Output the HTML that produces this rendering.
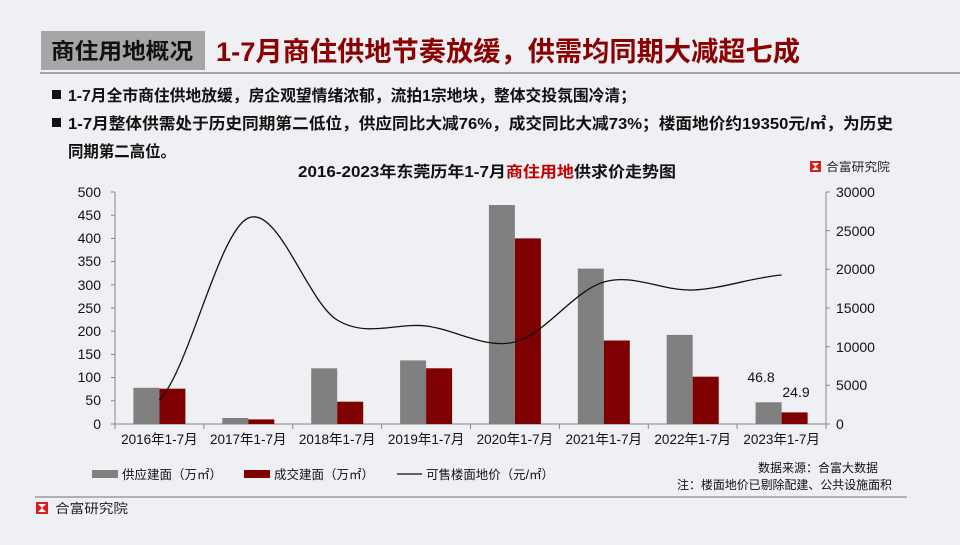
<!DOCTYPE html>
<html><head><meta charset="utf-8"><style>
html,body{margin:0;padding:0;}
body{width:960px;height:540px;background:#eef0f3;overflow:hidden;font-family:"Liberation Sans","Noto Sans CJK SC",sans-serif;}
</style></head><body>
<svg width="960" height="540" xmlns="http://www.w3.org/2000/svg" font-family="Liberation Sans, Noto Sans CJK SC, sans-serif">
<rect x="0" y="0" width="960" height="540" fill="#eef0f3"/>
<rect x="41" y="31" width="164" height="39" fill="#a6a6a6"/>
<text x="51" y="59" font-size="22" font-weight="bold" fill="#111" textLength="142" lengthAdjust="spacingAndGlyphs">商住用地概况</text>
<text x="216" y="61" font-size="27" font-weight="bold" fill="#8b0000" textLength="584" lengthAdjust="spacingAndGlyphs">1-7月商住供地节奏放缓，供需均同期大减超七成</text>
<line x1="40" y1="73" x2="960" y2="73" stroke="#8c8c8c" stroke-width="1.5"/>
<rect x="52" y="90" width="9" height="9" fill="#111"/>
<text x="68" y="101" font-size="16" font-weight="bold" fill="#111" textLength="568" lengthAdjust="spacingAndGlyphs">1-7月全市商住供地放缓，房企观望情绪浓郁，流拍1宗地块，整体交投氛围冷清；</text>
<rect x="52" y="118" width="9" height="9" fill="#111"/>
<text x="68" y="129" font-size="16" font-weight="bold" fill="#111" textLength="825" lengthAdjust="spacingAndGlyphs">1-7月整体供需处于历史同期第二低位，供应同比大减76%，成交同比大减73%；楼面地价约19350元/㎡，为历史</text>
<text x="68" y="157" font-size="16" font-weight="bold" fill="#111" textLength="108" lengthAdjust="spacingAndGlyphs">同期第二高位。</text>
<text x="298" y="177" font-size="15.5" font-weight="bold" fill="#111" textLength="378" lengthAdjust="spacingAndGlyphs">2016-2023年东莞历年1-7月<tspan fill="#c00000">商住用地</tspan>供求价走势图</text>
<rect x="810" y="161" width="11" height="11" fill="#d42020"/><path d="M812,163 h7 l-3.5,3.5z M812,170 h7 l-3.5,-3.5z" fill="#fff"/>
<text x="826" y="171" font-size="12" fill="#222" textLength="64" lengthAdjust="spacingAndGlyphs">合富研究院</text>
<g stroke="#888" stroke-width="1" fill="none">
<line x1="115" y1="192" x2="115" y2="424"/>
<line x1="826" y1="192" x2="826" y2="424"/>
<line x1="115" y1="424" x2="826" y2="424"/>
</g>
<g stroke="#888">
<line x1="111" y1="192" x2="115" y2="192"/><line x1="111" y1="215.2" x2="115" y2="215.2"/><line x1="111" y1="238.4" x2="115" y2="238.4"/><line x1="111" y1="261.6" x2="115" y2="261.6"/><line x1="111" y1="284.8" x2="115" y2="284.8"/><line x1="111" y1="308" x2="115" y2="308"/><line x1="111" y1="331.2" x2="115" y2="331.2"/><line x1="111" y1="354.4" x2="115" y2="354.4"/><line x1="111" y1="377.6" x2="115" y2="377.6"/><line x1="111" y1="400.8" x2="115" y2="400.8"/><line x1="111" y1="424" x2="115" y2="424"/>
<line x1="826" y1="192" x2="830" y2="192"/><line x1="826" y1="230.7" x2="830" y2="230.7"/><line x1="826" y1="269.3" x2="830" y2="269.3"/><line x1="826" y1="308" x2="830" y2="308"/><line x1="826" y1="346.7" x2="830" y2="346.7"/><line x1="826" y1="385.3" x2="830" y2="385.3"/><line x1="826" y1="424" x2="830" y2="424"/>
<line x1="203.9" y1="424" x2="203.9" y2="429"/><line x1="292.8" y1="424" x2="292.8" y2="429"/><line x1="381.6" y1="424" x2="381.6" y2="429"/><line x1="470.5" y1="424" x2="470.5" y2="429"/><line x1="559.4" y1="424" x2="559.4" y2="429"/><line x1="648.3" y1="424" x2="648.3" y2="429"/><line x1="737.1" y1="424" x2="737.1" y2="429"/><line x1="115" y1="424" x2="115" y2="429"/><line x1="826" y1="424" x2="826" y2="429"/>
</g>
<g font-size="14" fill="#111" text-anchor="end">
<text x="101" y="197">500</text><text x="101" y="220">450</text><text x="101" y="243">400</text><text x="101" y="266">350</text><text x="101" y="290">300</text><text x="101" y="313">250</text><text x="101" y="336">200</text><text x="101" y="359">150</text><text x="101" y="382">100</text><text x="101" y="405">50</text><text x="101" y="429">0</text>
</g>
<g font-size="14" fill="#111">
<text x="836" y="197">30000</text><text x="836" y="236">25000</text><text x="836" y="274">20000</text><text x="836" y="313">15000</text><text x="836" y="352">10000</text><text x="836" y="390">5000</text><text x="836" y="429">0</text>
</g>
<g fill="#808080">
<rect x="133.4" y="387.8" width="26" height="36.2"/><rect x="222.3" y="418" width="26" height="6"/><rect x="311.2" y="368.3" width="26" height="55.7"/><rect x="400.1" y="360.4" width="26" height="63.6"/><rect x="488.9" y="205" width="26" height="219"/><rect x="577.8" y="268.6" width="26" height="155.4"/><rect x="666.7" y="334.9" width="26" height="89.1"/><rect x="755.6" y="402.3" width="26" height="21.7"/>
</g>
<g fill="#7f0000">
<rect x="159.4" y="388.7" width="26" height="35.3"/><rect x="248.3" y="419.4" width="26" height="4.6"/><rect x="337.2" y="401.7" width="26" height="22.3"/><rect x="426.1" y="368.3" width="26" height="55.7"/><rect x="514.9" y="238.4" width="26" height="185.6"/><rect x="603.8" y="340.5" width="26" height="83.5"/><rect x="692.7" y="376.7" width="26" height="47.3"/><rect x="781.6" y="412.4" width="26" height="11.6"/>
</g>
<path d="M159.4,400 C189,369.7 218.7,231.3 248.3,218 C277.9,204.7 307.6,302 337.2,320 C366.8,338 396.5,322.3 426.1,326 C455.7,329.7 485.3,349.3 514.9,342 C544.5,334.7 574.2,290.7 603.8,282 C633.4,273.3 663.1,291.2 692.7,290 C722.3,288.8 752,277.5 781.6,275" fill="none" stroke="#111" stroke-width="1.3"/>
<text x="761" y="382" font-size="14" fill="#111" text-anchor="middle">46.8</text>
<text x="796" y="397" font-size="14" fill="#111" text-anchor="middle">24.9</text>
<g font-size="13.5" fill="#111" text-anchor="middle">
<text x="159.4" y="444">2016年1-7月</text><text x="248.3" y="444">2017年1-7月</text><text x="337.2" y="444">2018年1-7月</text><text x="426.1" y="444">2019年1-7月</text><text x="514.9" y="444">2020年1-7月</text><text x="603.8" y="444">2021年1-7月</text><text x="692.7" y="444">2022年1-7月</text><text x="781.6" y="444">2023年1-7月</text>
</g>
<rect x="92" y="470" width="26" height="8" fill="#808080"/>
<text x="122" y="479" font-size="12.5" fill="#111" textLength="100" lengthAdjust="spacingAndGlyphs">供应建面（万㎡）</text>
<rect x="244" y="470" width="26" height="8" fill="#7f0000"/>
<text x="274" y="479" font-size="12.5" fill="#111" textLength="100" lengthAdjust="spacingAndGlyphs">成交建面（万㎡）</text>
<line x1="397" y1="474" x2="422" y2="474" stroke="#111" stroke-width="1.2"/>
<text x="426" y="479" font-size="12.5" fill="#111" textLength="128" lengthAdjust="spacingAndGlyphs">可售楼面地价（元/㎡）</text>
<text x="758" y="472" font-size="12" fill="#111" textLength="120" lengthAdjust="spacingAndGlyphs">数据来源：合富大数据</text>
<text x="677" y="489" font-size="12" fill="#111" textLength="215" lengthAdjust="spacingAndGlyphs">注：楼面地价已剔除配建、公共设施面积</text>
<line x1="35" y1="497" x2="907" y2="497" stroke="#8c8c8c" stroke-width="1.2"/>
<rect x="36" y="502" width="12" height="12" fill="#d42020"/><path d="M38,504 h8 l-4,4z M38,512 h8 l-4,-4z" fill="#fff"/>
<text x="55" y="513" font-size="13" fill="#222" textLength="73" lengthAdjust="spacingAndGlyphs">合富研究院</text>
</svg>
</body></html>
